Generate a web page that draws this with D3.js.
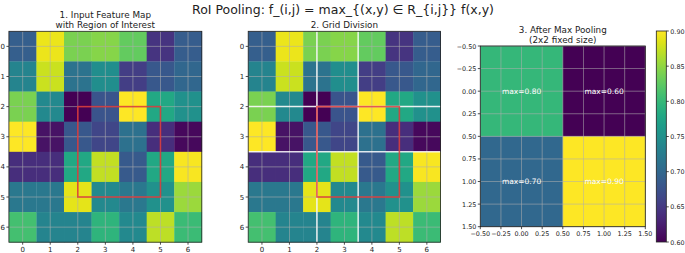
<!DOCTYPE html>
<html>
<head>
<meta charset="utf-8">
<script src="https://cdn.jsdelivr.net/npm/d3@7"></script>
<style>
  body { margin:0; background:#fff; }
  text { font-family: "DejaVu Sans", sans-serif; fill:#222; }
</style>
</head>
<body>
<div id="chart"></div>
<script>
// 7x7 feature map
const featureMap = [
  [0.30, 0.97, 0.80, 0.82, 0.76, 0.15, 0.29],
  [0.45, 0.92, 0.38, 0.49, 0.18, 0.27, 0.33],
  [0.80, 0.47, 0.00, 0.26, 1.00, 0.60, 0.50],
  [1.00, 0.05, 0.27, 0.21, 0.37, 0.13, 0.02],
  [0.13, 0.13, 0.60, 0.91, 0.28, 0.60, 0.99],
  [0.40, 0.40, 0.96, 0.47, 0.40, 0.50, 0.85],
  [0.70, 0.45, 0.45, 0.65, 0.47, 0.90, 0.68]
]
const roi = [2, 2, 5, 5]           // x0, y0, x1, y1
const splitLines = [2, 3.5]
const pooled = [[0.80, 0.60], [0.70, 0.90]]
const gridTicks = [0, 1, 2, 3, 4, 5, 6]
const poolTicks = [-0.5, -0.25, 0, 0.25, 0.5, 0.75, 1, 1.25, 1.5]
const cbTicks = [0.60, 0.65, 0.70, 0.75, 0.80, 0.85, 0.90]

const W = 685, H = 253
const svg = d3.select("#chart").append("svg")
  .attr("width", W).attr("height", H)

const fmFlat = featureMap.flat()
const fmColor = d3.scaleSequential(d3.interpolateViridis).domain(d3.extent(fmFlat))
const poolColor = d3.scaleSequential(d3.interpolateViridis).domain([0.6, 0.9])

const fmt = v => (v < 0 ? "\u2212" : "") + Math.abs(v).toFixed(2)

function axesFrame(g, x, y, xt, yt){
  const [xa, xb] = x.range(), [ya, yb] = y.range()
  // grid
  g.selectAll(null).data(xt).enter().append("line")
    .attr("x1", d => x(d)).attr("x2", d => x(d)).attr("y1", ya).attr("y2", yb)
    .style("stroke", "#b0b0b0").style("stroke-width", 0.8).style("opacity", 0.7)
  g.selectAll(null).data(yt).enter().append("line")
    .attr("y1", d => y(d)).attr("y2", d => y(d)).attr("x1", xa).attr("x2", xb)
    .style("stroke", "#b0b0b0").style("stroke-width", 0.8).style("opacity", 0.7)
}

function axesTicks(g, x, y, xt, yt, xf, yf, fs){
  const [xa, xb] = x.range(), [ya, yb] = y.range()
  g.append("rect").attr("x", xa).attr("y", ya).attr("width", xb - xa).attr("height", yb - ya)
    .style("fill", "none").style("stroke", "#222").style("stroke-width", 0.8)
  g.selectAll(null).data(xt).enter().append("line")
    .attr("x1", d => x(d)).attr("x2", d => x(d)).attr("y1", yb).attr("y2", yb + 2.5)
    .style("stroke", "#222").style("stroke-width", 0.8)
  g.selectAll(null).data(xt).enter().append("text")
    .attr("x", d => x(d)).attr("y", yb + 9.3).attr("text-anchor", "middle")
    .style("font-size", fs + "px").text(xf)
  g.selectAll(null).data(yt).enter().append("line")
    .attr("y1", d => y(d)).attr("y2", d => y(d)).attr("x1", xa).attr("x2", xa - 2.5)
    .style("stroke", "#222").style("stroke-width", 0.8)
  g.selectAll(null).data(yt).enter().append("text")
    .attr("x", xa - 4).attr("y", d => y(d) + 2.5).attr("text-anchor", "end")
    .style("font-size", fs + "px").text(yf)
}

function featurePanel(x0, x1, withSplit){
  const x = d3.scaleLinear().domain([-0.5, 6.5]).range([x0, x1])
  const y = d3.scaleLinear().domain([-0.5, 6.5]).range([31.3, 242.2])
  const g = svg.append("g")
  const cells = []
  featureMap.forEach((row, i) => row.forEach((v, j) => cells.push({i, j, v})))
  g.selectAll(null).data(cells).enter().append("rect")
    .attr("x", d => x(d.j - 0.5)).attr("y", d => y(d.i - 0.5))
    .attr("width", x(1) - x(0) + 0.3).attr("height", y(1) - y(0) + 0.3)
    .style("fill", d => fmColor(d.v))
  axesFrame(g, x, y, gridTicks, gridTicks)
  if (withSplit){
    g.selectAll(null).data(splitLines).enter().append("line")
      .attr("x1", d => x(d)).attr("x2", d => x(d)).attr("y1", y(-0.5)).attr("y2", y(6.5))
      .style("stroke", "#fff").style("stroke-width", 1.5).style("opacity", 0.85)
    g.selectAll(null).data(splitLines).enter().append("line")
      .attr("y1", d => y(d)).attr("y2", d => y(d)).attr("x1", x(-0.5)).attr("x2", x(6.5))
      .style("stroke", "#fff").style("stroke-width", 1.5).style("opacity", 0.85)
  }
  g.append("rect")
    .attr("x", x(roi[0])).attr("y", y(roi[1]))
    .attr("width", x(roi[2]) - x(roi[0])).attr("height", y(roi[3]) - y(roi[1]))
    .style("fill", "none").style("stroke", "#e03030").style("stroke-width", 1.6).style("opacity", 0.8)
  axesTicks(g, x, y, gridTicks, gridTicks, d => d, d => d, 7)
  return g
}

featurePanel(8.9, 201.8, false)
featurePanel(248.2, 440.6, true)

// panel 3: pooled output
{
  const x = d3.scaleLinear().domain([-0.5, 1.5]).range([480.3, 645.3])
  const y = d3.scaleLinear().domain([-0.5, 1.5]).range([46, 226.7])
  const g = svg.append("g")
  const cells = []
  pooled.forEach((row, i) => row.forEach((v, j) => cells.push({i, j, v})))
  g.selectAll(null).data(cells).enter().append("rect")
    .attr("x", d => x(d.j - 0.5)).attr("y", d => y(d.i - 0.5))
    .attr("width", x(1) - x(0) + 0.3).attr("height", y(1) - y(0) + 0.3)
    .style("fill", d => poolColor(d.v))
  axesFrame(g, x, y, poolTicks, poolTicks)
  g.selectAll(null).data(cells).enter().append("text")
    .attr("x", d => x(d.j)).attr("y", d => y(d.i) + 2.7)
    .attr("text-anchor", "middle").style("font-size", "7.5px").style("fill", "#fff")
    .text(d => "max=" + d.v.toFixed(2))
  axesTicks(g, x, y, poolTicks, poolTicks, fmt, fmt, 6.4)
}

// colorbar
{
  const cy = d3.scaleLinear().domain([0.6, 0.9]).range([242, 31])
  const cx0 = 656.3, cx1 = 666.3
  const defs = svg.append("defs")
  const grad = defs.append("linearGradient").attr("id", "cb").attr("x1", 0).attr("y1", 1).attr("x2", 0).attr("y2", 0)
  d3.range(0, 1.0001, 0.05).forEach(t => {
    grad.append("stop").attr("offset", t).attr("stop-color", d3.interpolateViridis(t))
  })
  svg.append("rect").attr("x", cx0).attr("y", cy(0.9)).attr("width", cx1 - cx0).attr("height", cy(0.6) - cy(0.9))
    .style("fill", "url(#cb)").style("stroke", "#222").style("stroke-width", 0.8)
  svg.selectAll(null).data(cbTicks).enter().append("line")
    .attr("x1", cx1).attr("x2", cx1 + 2.5).attr("y1", d => cy(d)).attr("y2", d => cy(d))
    .style("stroke", "#222").style("stroke-width", 0.8)
  svg.selectAll(null).data(cbTicks).enter().append("text")
    .attr("x", cx1 + 4).attr("y", d => cy(d) + 2.5)
    .style("font-size", "6.4px").text(d => d.toFixed(2))
}

// titles
svg.append("text").attr("x", 343).attr("y", 14).attr("text-anchor", "middle")
  .style("font-size", "12.5px").text("RoI Pooling: f_(i,j) = max_{(x,y) \u2208 R_{i,j}} f(x,y)")
const subTitles = [
  {x: 105.3, y: 17.5, t: "1. Input Feature Map"},
  {x: 105.3, y: 27.5, t: "with Region of Interest"},
  {x: 344.4, y: 27.5, t: "2. Grid Division"},
  {x: 562.8, y: 33, t: "3. After Max Pooling"},
  {x: 562.8, y: 43, t: "(2x2 fixed size)"}
]
svg.selectAll(null).data(subTitles).enter().append("text")
  .attr("x", d => d.x).attr("y", d => d.y).attr("text-anchor", "middle")
  .style("font-size", "8.8px").text(d => d.t)
</script>
</body>
</html>
